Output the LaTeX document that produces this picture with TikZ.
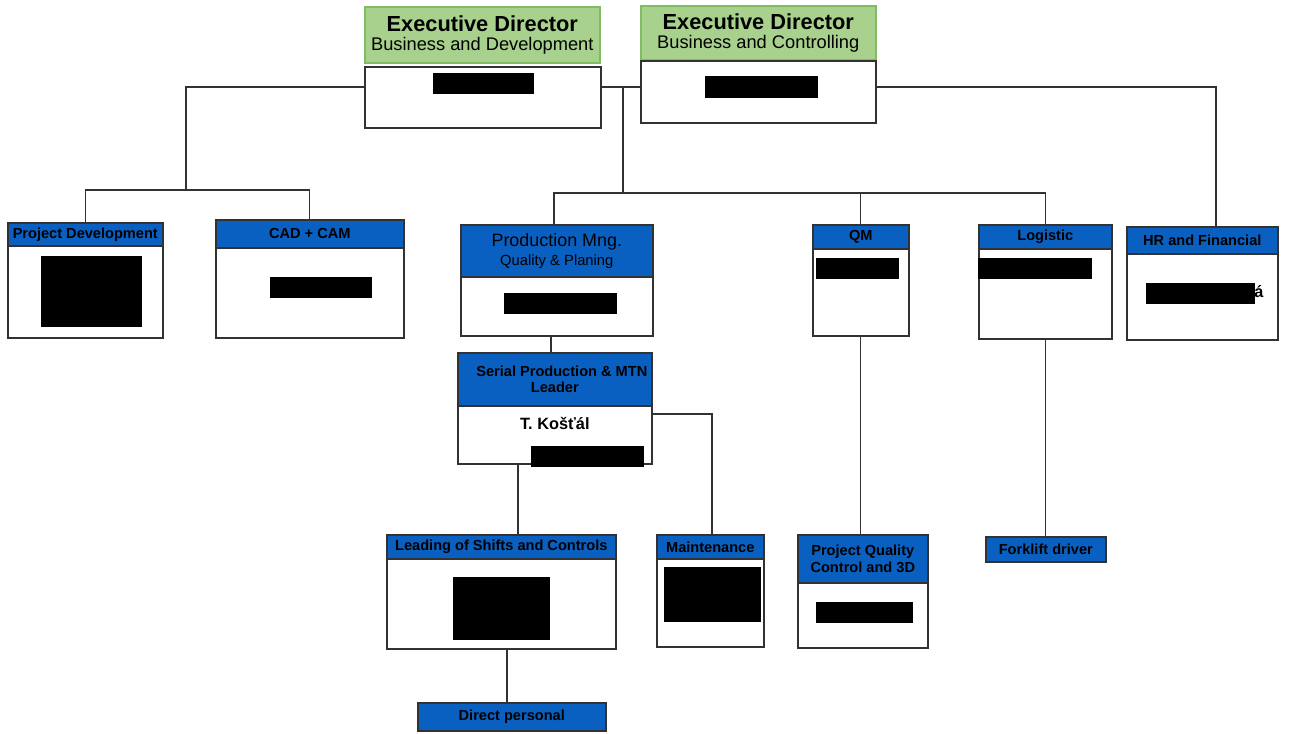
\documentclass[tikz,border=0pt]{standalone}
\usepackage{fontspec}
\setmainfont{Liberation Sans}
\definecolor{hdrblue}{RGB}{10,96,192}
\definecolor{hdrgreen}{RGB}{169,209,142}
\definecolor{edgegreen}{RGB}{128,188,98}
\definecolor{linegray}{RGB}{50,50,50}
\begin{document}
\begin{tikzpicture}[x=0.02cm,y=-0.02cm,
  wh/.style 2 args={minimum width=#1*0.02cm,minimum height=#2*0.02cm},
  box/.style={draw=linegray,line width=0.9pt,inner sep=0pt,anchor=north west,align=center},
  bluehead/.style={box,fill=hdrblue,font=\bfseries\fontsize{8.3}{9.6}\selectfont},
  greenhead/.style={box,draw=edgegreen,fill=hdrgreen},
  bodybox/.style={box,fill=white},
  link/.style={draw=linegray,line width=0.7pt},
  blackout/.style={fill=black}]
\useasboundingbox (0,0) rectangle (1290,733);

% executive directors
\node[greenhead,wh={235}{56}] (edbd) at (364,6)
  {{\bfseries\fontsize{12.4}{14}\selectfont Executive Director}\\[-1pt]{\fontsize{10.4}{12}\selectfont Business and Development}};
\node[bodybox,wh={236}{61}] (edbdbody) at (364,66) {};
\node[greenhead,wh={235}{54}] (edbc) at (640,5)
  {{\bfseries\fontsize{12.4}{14}\selectfont Executive Director}\\[-1pt]{\fontsize{10.4}{12}\selectfont Business and Controlling}};
\node[bodybox,wh={235}{62}] (edbcbody) at (640,60) {};

% second row
\node[bluehead,wh={155}{23}] (pd) at (7,222) {Project Development};
\node[bodybox,wh={155}{92}] (pdbody) at (7,245) {};
\node[bluehead,wh={188}{28}] (cad) at (215,219) {CAD + CAM};
\node[bodybox,wh={188}{90}] (cadbody) at (215,247) {};
\node[bluehead,wh={192}{52},font=\fontsize{10.2}{11}\selectfont] (prod) at (460,224)
  {Production Mng.\\{\fontsize{8.4}{9.5}\selectfont Quality \& Planing}};
\node[bodybox,wh={192}{59}] (prodbody) at (460,276) {};
\node[bluehead,wh={96}{24}] (qm) at (812,224) {QM};
\node[bodybox,wh={96}{87}] (qmbody) at (812,248) {};
\node[bluehead,wh={133}{24}] (logi) at (978,224) {Logistic};
\node[bodybox,wh={133}{90}] (logibody) at (978,248) {};
\node[bluehead,wh={151}{27}] (hr) at (1126,226) {HR and Financial};
\node[bodybox,wh={151}{86}] (hrbody) at (1126,253) {};

% production branch
\node[bluehead,wh={194}{53}] (serial) at (457,352) {\hspace{8pt}Serial Production \& MTN\\Leader};
\node[bodybox,wh={194}{58},font=\bfseries\fontsize{9.3}{11}\selectfont] (serialbody) at (457,405) {T. Košťál\\[2pt]};
\node[bluehead,wh={229}{24}] (lead) at (386,534) {Leading of Shifts and Controls};
\node[bodybox,wh={229}{90}] (leadbody) at (386,558) {};
\node[bluehead,wh={107}{24}] (maint) at (656,534) {Maintenance};
\node[bodybox,wh={107}{88}] (maintbody) at (656,558) {};
\node[bluehead,wh={188}{28}] (direct) at (417,702) {Direct personal};
\node[bluehead,wh={130}{48}] (pqc) at (797,534) {Project Quality\\Control and 3D};
\node[bodybox,wh={130}{65}] (pqcbody) at (797,582) {};
\node[bluehead,wh={120}{25}] (fork) at (985,536) {Forklift driver};

% junctions
\coordinate (jt) at (623,87);
\coordinate (jm) at (623,193);
\coordinate (jl) at (186,190);
\coordinate (jr) at (1216,87);
\coordinate (jsm) at (712,414);
\coordinate (jsl) at (518,500);
\coordinate (jld) at (507,680);

\draw[link] (edbdbody.west |- jt) -| (jl);
\draw[link] (pd.north) |- (jl) -| (cad.north);
\draw[link] (edbdbody.east |- jt) -- (edbcbody.west |- jt);
\draw[link] (jt) -- (jm);
\draw[link] (prod.north -| 554,0) |- (jm) -| (logi.north);
\draw[link] (qm.north) -- (qm.north |- jm);
\draw[link] (edbcbody.east |- jt) -| (jr |- hr.north);
\draw[link] (prodbody.south -| 551,0) -- (serial.north -| 551,0);
\draw[link] (serialbody.east |- jsm) -| (maint.north -| jsm);
\draw[link] (serialbody.south -| jsl) -- (lead.north -| jsl);
\draw[link] (leadbody.south -| jld) -- (direct.north -| jld);
\draw[link] (qmbody.south) -- (qmbody.south |- pqc.north);
\draw[link] (logibody.south) -- (logibody.south |- fork.north);

% redacted names
\fill[blackout] (433,73) rectangle (534,94);
\fill[blackout] (705,76) rectangle (818,98);
\fill[blackout] (41,256) rectangle (142,327);
\fill[blackout] (270,277) rectangle (372,298);
\fill[blackout] (504,293) rectangle (617,314);
\fill[blackout] (816,258) rectangle (899,279);
\fill[blackout] (978,258) rectangle (1092,279);
\fill[blackout] (1146,283) rectangle (1255,304);
\node[anchor=west,inner sep=0pt,font=\bfseries\fontsize{9.3}{11}\selectfont] (hrtail) at (1254,292) {á};
\fill[blackout] (531,446) rectangle (644,467);
\fill[blackout] (453,577) rectangle (550,640);
\fill[blackout] (664,567) rectangle (761,622);
\fill[blackout] (816,602) rectangle (913,623);
\end{tikzpicture}
\end{document}
